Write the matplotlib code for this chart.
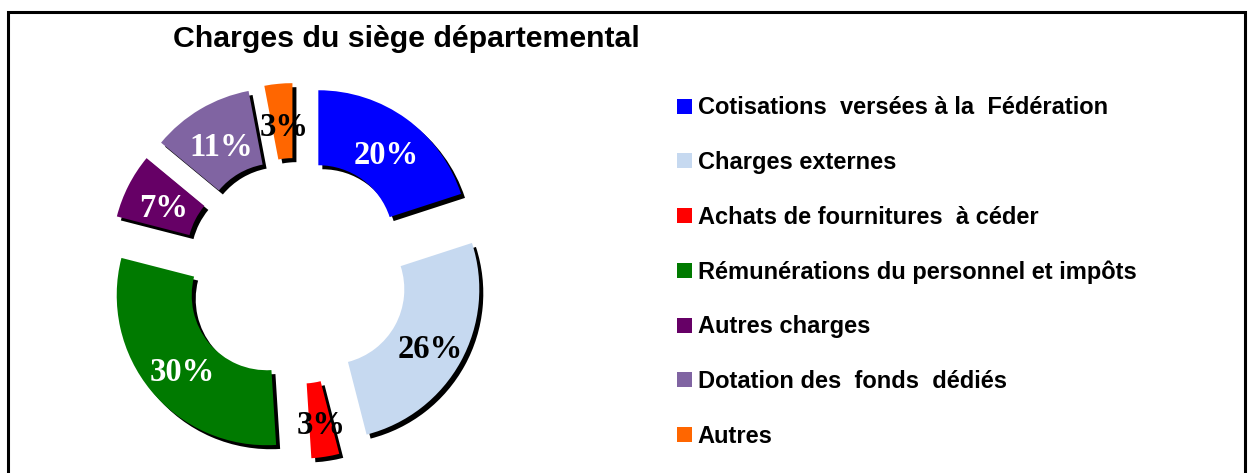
import matplotlib.pyplot as plt
from matplotlib.patches import Rectangle

# data
labels = ["Cotisations  versées à la  Fédération",
          "Charges externes",
          "Achats de fournitures  à céder",
          "Rémunérations du personnel et impôts",
          "Autres charges",
          "Dotation des  fonds  dédiés",
          "Autres"]
values = [20, 26, 3, 30, 7, 11, 3]
colors = ["#0000FF", "#C6D9F0", "#FF0000", "#007A00", "#660066", "#8064A2", "#FF6600"]
pct_colors = ["white", "black", "black", "white", "white", "white", "black"]

W, H = 1248, 473
fig = plt.figure(figsize=(W / 100, H / 100), dpi=100)
ax = fig.add_axes([0, 0, 1, 1])

cx, cy = 296, H - 271
R = 150
expl = [38] * len(values)   # pie explode is in data units here
ring = dict(width=75, edgecolor="none", linewidth=0)

# black drop shadow first, shifted right/down
ax.pie(values, radius=R, center=(cx + 4, cy - 4), startangle=90, counterclock=False,
       explode=expl, colors=["black"] * len(values), wedgeprops=ring)

wedges, texts, autotexts = ax.pie(
    values, radius=R, center=(cx, cy), startangle=90, counterclock=False,
    explode=expl, colors=colors, wedgeprops=ring,
    autopct="%d%%", pctdistance=0.75,
    textprops=dict(family="Liberation Serif", fontweight="bold", fontsize=23.5))
for t, c in zip(autotexts, pct_colors):
    t.set_color(c)
    x, y = t.get_position()
    t.set_position((x + 2, y - 6))

ax.set_xlim(0, W)
ax.set_ylim(0, H)
ax.set_aspect("auto")
ax.axis("off")

# frame
fig.patches.append(Rectangle((8 / W, -0.1), (1245 - 8) / W, (H - 12) / H + 0.1,
                             transform=fig.transFigure, fill=False,
                             edgecolor="black", linewidth=2.2))

fig.text(173 / W, 1 - 39 / H, "Charges du siège départemental", ha="left", va="center",
         family="Liberation Sans", fontweight="bold", fontsize=21.8)

leg = ax.legend(wedges, labels, loc="upper left", bbox_to_anchor=(668 / W, 1 - 87 / H),
                frameon=False, handlelength=0.6, handleheight=0.6, handletextpad=0.25,
                labelspacing=1.34, borderaxespad=0,
                prop=dict(family="Liberation Sans", weight="bold", size=17))

fig.savefig("out.png", dpi=100)
